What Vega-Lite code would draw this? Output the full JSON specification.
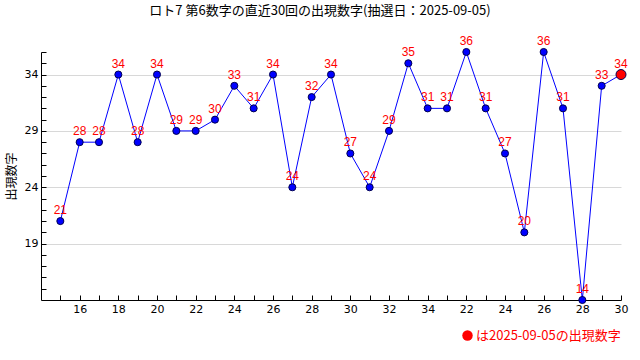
{
  "$schema": "https://vega.github.io/schema/vega-lite/v6.json",
  "width": 580,
  "height": 248,
  "autosize": {"type": "none"},
  "padding": {"left": 41, "top": 52, "right": 19, "bottom": 60},
  "background": "white",
  "title": {
    "text": "ロト7 第6数字の直近30回の出現数字(抽選日：2025-09-05)",
    "font": "Noto Sans CJK JP",
    "fontSize": 13,
    "fontWeight": "normal",
    "color": "black",
    "anchor": "middle",
    "frame": "group",
    "dx": -11,
    "offset": 17
  },
  "data": {
    "values": [
      {"i": 0, "v": 21, "kind": "past"},
      {"i": 1, "v": 28, "kind": "past"},
      {"i": 2, "v": 28, "kind": "past"},
      {"i": 3, "v": 34, "kind": "past"},
      {"i": 4, "v": 28, "kind": "past"},
      {"i": 5, "v": 34, "kind": "past"},
      {"i": 6, "v": 29, "kind": "past"},
      {"i": 7, "v": 29, "kind": "past"},
      {"i": 8, "v": 30, "kind": "past"},
      {"i": 9, "v": 33, "kind": "past"},
      {"i": 10, "v": 31, "kind": "past"},
      {"i": 11, "v": 34, "kind": "past"},
      {"i": 12, "v": 24, "kind": "past"},
      {"i": 13, "v": 32, "kind": "past"},
      {"i": 14, "v": 34, "kind": "past"},
      {"i": 15, "v": 27, "kind": "past"},
      {"i": 16, "v": 24, "kind": "past"},
      {"i": 17, "v": 29, "kind": "past"},
      {"i": 18, "v": 35, "kind": "past"},
      {"i": 19, "v": 31, "kind": "past"},
      {"i": 20, "v": 31, "kind": "past"},
      {"i": 21, "v": 36, "kind": "past"},
      {"i": 22, "v": 31, "kind": "past"},
      {"i": 23, "v": 27, "kind": "past"},
      {"i": 24, "v": 20, "kind": "past"},
      {"i": 25, "v": 36, "kind": "past"},
      {"i": 26, "v": 31, "kind": "past"},
      {"i": 27, "v": 14, "kind": "past"},
      {"i": 28, "v": 33, "kind": "past"},
      {"i": 29, "v": 34, "kind": "latest"}
    ]
  },
  "config": {
    "view": {"stroke": null},
    "axis": {
      "domainColor": "black",
      "tickColor": "black",
      "labelColor": "black",
      "labelFont": "DejaVu Sans",
      "labelFontSize": 11,
      "titleFont": "Noto Sans CJK JP",
      "titleFontSize": 12,
      "titleFontWeight": "normal",
      "titleColor": "black"
    }
  },
  "encoding": {
    "x": {
      "field": "i",
      "type": "quantitative",
      "scale": {"domain": [-1, 29], "nice": false, "zero": false},
      "axis": {
        "title": null,
        "grid": false,
        "values": [0,1,2,3,4,5,6,7,8,9,10,11,12,13,14,15,16,17,18,19,20,21,22,23,24,25,26,27,28,29],
        "labelExpr": "['','16','','18','','20','','22','','24','','26','','28','','30','','32','','34','','22','','24','','26','','28','','30'][datum.value]",
        "tickSize": -5,
        "labelPadding": 8,
        "labelFlush": false,
        "labelOverlap": false
      }
    },
    "y": {
      "field": "v",
      "type": "quantitative",
      "scale": {"domain": [14, 36], "nice": false, "zero": false},
      "axis": {
        "title": "出現数字",
        "values": [15,16,17,18,19,20,21,22,23,24,25,26,27,28,29,30,31,32,33,34,35,36],
        "labelExpr": "(datum.value - 19) % 5 == 0 ? datum.label : ''",
        "tickSize": -5,
        "labelPadding": 8,
        "grid": true,
        "gridColor": "#d8d8d8",
        "gridOpacity": {"condition": {"test": "(datum.value - 19) % 5 == 0", "value": 1}, "value": 0},
        "titlePadding": 6,
        "labelOverlap": false
      }
    }
  },
  "layer": [
    {
      "mark": {"type": "line", "color": "#0000ff", "strokeWidth": 1}
    },
    {
      "mark": {"type": "point", "filled": true, "shape": "circle", "opacity": 1, "stroke": "#000050", "strokeWidth": 1},
      "encoding": {
        "color": {
          "field": "kind",
          "type": "nominal",
          "scale": {"domain": ["latest", "past"], "range": ["#ff0000", "#0000ff"]},
          "legend": {
            "values": ["latest"],
            "labelExpr": "'は2025-09-05の出現数字'",
            "title": null,
            "orient": "none",
            "legendX": 420,
            "legendY": 277,
            "labelColor": "#ff0000",
            "labelFont": "Noto Sans CJK JP",
            "labelFontSize": 13,
            "symbolType": "circle",
            "symbolSize": 110,
            "symbolStrokeWidth": 0,
            "symbolOpacity": 1,
            "labelOffset": 2
          }
        },
        "size": {"condition": {"test": "datum.kind == 'latest'", "value": 100}, "value": 50}
      }
    },
    {
      "mark": {"type": "text", "dy": -11, "color": "#ff0000", "font": "Liberation Sans", "fontSize": 12},
      "encoding": {"text": {"field": "v", "type": "quantitative"}}
    }
  ]
}
